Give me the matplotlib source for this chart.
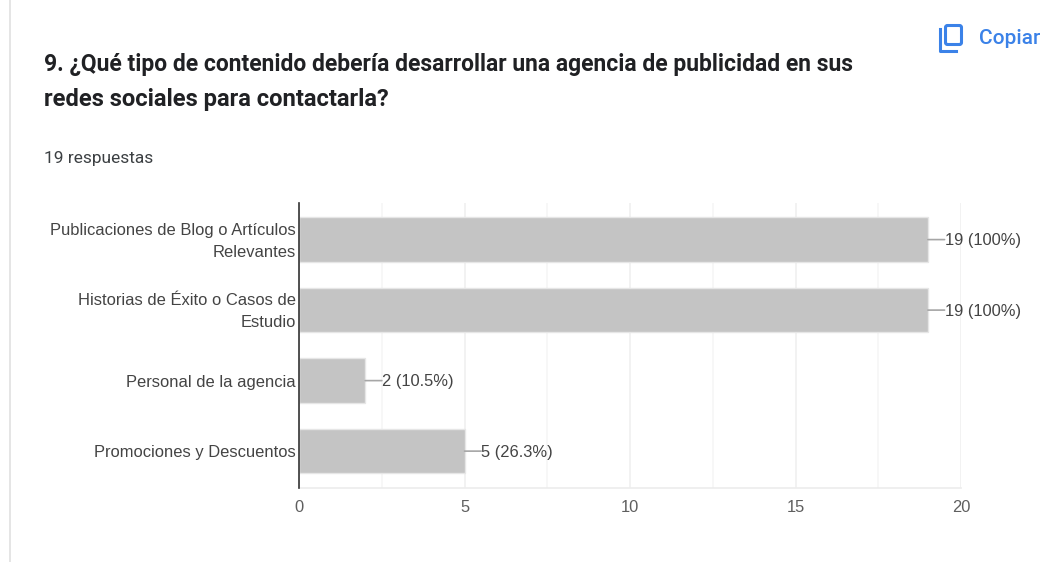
import matplotlib
matplotlib.use('Agg')
import matplotlib.pyplot as plt
from matplotlib.patches import FancyBboxPatch
from matplotlib.ticker import MultipleLocator

categories = ['Publicaciones de Blog o Artículos\nRelevantes',
              'Historias de Éxito o Casos de\nEstudio',
              'Personal de la agencia',
              'Promociones y Descuentos']
values = [19, 19, 2, 5]
value_labels = ['19 (100%)', '19 (100%)', '2 (10.5%)', '5 (26.3%)']
xticks = [0, 5, 10, 15, 20]

W, H = 1044, 562
plt.rcParams['font.family'] = ['Liberation Sans', 'DejaVu Sans']

fig = plt.figure(figsize=(W / 100, H / 100), dpi=100, facecolor='white')

# capa en pixeles para el encabezado
bg = fig.add_axes([0, 0, 1, 1])
bg.set_xlim(0, W)
bg.set_ylim(H, 0)
bg.axis('off')
bg.plot([10, 10], [0, H], color='#e0e0e0', lw=1.2)

title_color = '#202124'
bg.text(44, 64, '9. ¿Qué tipo de contenido debería desarrollar una agencia de publicidad en sus',
        family='Roboto', weight='bold', fontsize=16.5, color=title_color, va='center')
bg.text(44, 99.5, 'redes sociales para contactarla?',
        family='Roboto', weight='bold', fontsize=17.1, color=title_color, va='center')
bg.text(44, 158.5, '19 respuestas', family='Roboto', fontsize=12.5, color='#3c4043', va='center')

# icono de copiar y boton
blue = '#3b82e8'
bg.add_patch(FancyBboxPatch((945.5, 25.5), 16, 19, boxstyle='round,pad=0,rounding_size=2',
                            fill=False, ec=blue, lw=2.2))
bg.plot([940, 940, 956], [29, 51, 51], color=blue, lw=2.2, solid_joinstyle='round')
bg.text(979, 38.5, 'Copiar', family='Roboto', weight='medium', fontsize=15, color=blue, va='center')

# grafico de barras
left, right, top, bottom = 299, 961, 203, 488
ax = fig.add_axes([left / W, 1 - bottom / H, (right - left) / W, (bottom - top) / H])
ax.patch.set_alpha(0)
y = range(len(categories))
ax.barh(y, values, height=0.63, color='#c4c4c4', edgecolor='#e6e6e6', linewidth=1, zorder=2)
ax.set_ylim(3.523, -0.519)
ax.set_xlim(0, 20)

# etiquetas de categoria un poco por debajo del centro de la barra
ax.set_yticks(list(y))
ax.set_yticklabels([])
for i, cat in enumerate(categories):
    ax.annotate(cat, xy=(0, i), xytext=(-2.5, -1.1), textcoords='offset points',
                fontsize=11.9, color='#444444', linespacing=1.6, ha='right', va='center',
                multialignment='right')

ax.set_xticks(xticks)
ax.xaxis.set_minor_locator(MultipleLocator(2.5))
ax.tick_params(axis='both', which='both', length=0)
ax.tick_params(axis='x', pad=9, labelsize=11.9, labelcolor='#5f5f5f')
ax.grid(True, axis='x', which='major', color='#f0f0f0', lw=1.2, zorder=0)
ax.grid(True, axis='x', which='minor', color='#f6f6f6', lw=1.2, zorder=0)
ax.grid(False, axis='y')
ax.set_axisbelow(True)

for side in ['top', 'right']:
    ax.spines[side].set_visible(False)
ax.spines['bottom'].set_color('#ececec')
ax.spines['bottom'].set_linewidth(1.2)
ax.spines['left'].set_color('#333333')
ax.spines['left'].set_linewidth(1.2)
ax.spines['left'].set_zorder(5)

for i, (v, lab) in enumerate(zip(values, value_labels)):
    # linea guia y texto por separado para que la guia quede horizontal
    ax.annotate('', xy=(v, i), xytext=(12, 0), textcoords='offset points',
                arrowprops=dict(arrowstyle='-', color='#a6a6a6', lw=1.2, shrinkA=0, shrinkB=0))
    ax.annotate(lab, xy=(v, i), xytext=(12, -0.7), textcoords='offset points',
                fontsize=11.9, color='#444444', va='center', ha='left')

fig.savefig('out.png', dpi=100)
